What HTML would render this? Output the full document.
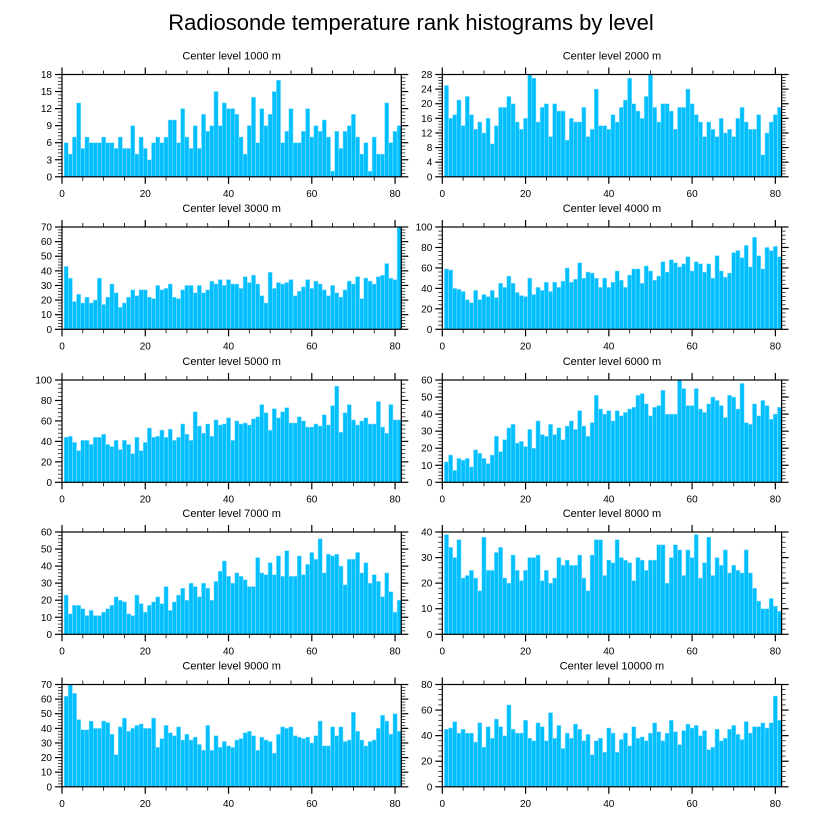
<!DOCTYPE html>
<html><head><meta charset="utf-8"><style>
html,body{margin:0;padding:0;background:#fff;}
svg{display:block;font-family:"Liberation Sans",Arial,sans-serif;}
</style></head><body>
<svg id="chart" width="822" height="824" viewBox="0 0 822 824">
<text x="411" y="30" text-anchor="middle" font-size="22">Radiosonde temperature rank histograms by level</text>
</svg>
<script>
const levels = ["1000","2000","3000","4000","5000","6000","7000","8000","9000","10000"];
const yMaxes = [18,28,70,100,100,60,60,40,70,80];
const yMajors = [3,4,10,20,20,10,10,10,10,20];
const xTicks = [0,20,40,60,80];
const s1000 = [6,4,7,13,5,7,6,6,6,7,6,6,5,7,5,5,9,4,7,5,3,6,7,6,7,10,10,6,12,7,5,9,5,11,8,9,15,9,13,12,12,11,7,4,9,14,6,12,9,11,15,17,6,8,12,6,6,8,12,7,9,8,10,7,1,8,5,8,9,11,7,4,6,1,7,4,4,13,6,8,9];
const s2000 = [25,16,17,21,14,22,17,13,15,12,16,9,14,19,19,22,20,15,13,16,28,27,15,19,20,11,20,18,18,10,16,15,15,19,11,13,24,14,14,13,17,15,19,21,27,20,18,16,22,28,19,15,20,20,18,13,19,19,24,20,17,15,11,15,13,11,16,12,13,11,16,19,15,13,13,17,6,12,15,17,19];
const s3000 = [43,35,19,24,18,22,18,20,35,17,22,31,25,15,18,22,27,23,27,27,22,21,30,27,28,31,22,21,27,30,30,25,30,25,27,33,31,34,30,34,31,31,28,36,32,37,31,23,18,39,28,32,31,32,34,23,26,29,34,28,33,31,27,23,30,25,22,27,33,31,36,21,35,33,31,36,37,45,35,34,70];
const s4000 = [59,58,40,39,37,29,26,38,29,34,32,38,31,45,41,52,45,36,33,32,50,34,41,38,46,37,46,41,47,60,46,49,65,50,56,55,50,41,50,41,46,57,48,41,53,59,59,45,62,57,48,52,66,56,68,65,61,64,71,57,66,64,56,64,50,72,57,51,55,75,77,70,82,61,90,72,59,80,77,81,71];
const s5000 = [44,45,39,31,41,41,37,44,44,47,37,35,41,32,41,37,28,44,31,39,53,44,45,51,44,52,41,44,57,47,41,69,55,48,57,45,61,56,57,63,41,60,57,58,56,62,64,76,68,51,72,63,69,73,58,58,64,60,54,54,57,55,66,56,75,94,49,68,76,61,56,60,63,57,57,79,54,48,76,61,61];
const s6000 = [12,16,7,14,13,14,9,19,17,14,11,16,27,18,25,32,34,23,24,21,31,20,36,28,27,34,28,32,25,33,36,31,42,33,27,35,51,43,40,42,36,42,39,41,43,44,51,52,46,39,44,45,54,40,40,40,60,55,45,45,55,43,41,46,50,48,45,38,51,50,43,58,35,34,46,39,48,45,37,40,44];
const s7000 = [23,12,17,17,15,11,14,11,11,13,15,17,22,20,19,12,11,23,18,13,17,19,22,18,28,14,19,23,27,20,30,28,22,30,27,20,31,37,43,34,30,36,34,32,28,28,45,36,35,42,35,46,34,49,34,34,46,35,41,48,44,56,36,47,46,47,40,29,44,44,48,36,42,30,35,31,22,36,25,13,20];
const s8000 = [39,34,30,37,22,23,25,22,17,38,25,25,32,34,22,20,31,25,21,25,30,30,31,21,25,20,22,30,27,29,27,27,31,22,17,31,37,37,23,29,28,37,30,29,28,21,30,29,25,29,29,35,35,20,30,35,33,23,33,30,39,22,28,38,23,30,27,33,24,27,25,24,33,24,18,13,10,10,14,11,9];
const s9000 = [62,70,64,46,39,39,45,40,40,45,44,36,22,41,47,38,40,42,43,40,40,47,27,33,42,37,35,41,32,36,32,34,29,25,42,25,35,27,31,28,27,32,33,37,38,35,25,34,32,31,23,36,41,40,41,35,34,33,34,30,35,45,28,28,41,35,41,31,32,51,38,32,28,31,32,40,49,45,36,50,38];
const s10000 = [45,46,51,42,45,42,42,35,50,31,47,38,53,47,40,64,45,42,42,52,38,36,50,47,36,58,38,48,30,42,38,49,45,36,41,25,36,38,27,46,42,27,37,42,32,47,38,39,36,42,50,43,36,42,52,43,33,44,49,46,48,40,44,29,31,45,36,38,45,48,41,37,51,42,47,47,50,46,50,71,52];
const seriesList = [s1000,s2000,s3000,s4000,s5000,s6000,s7000,s8000,s9000,s10000];

const NS = "http://www.w3.org/2000/svg";
const svg = document.getElementById("chart");
const XMAX = 81.5;
const colLeft = [62, 442.3];
const plotW = 339.3;
const rowTop = [74.5, 227, 380, 532, 684.5];
const plotH = 102.3;

function mk(tag, attrs, parent) {
  const e = document.createElementNS(NS, tag);
  for (const k in attrs) e.setAttribute(k, attrs[k]);
  (parent || svg).appendChild(e);
  return e;
}

seriesList.forEach((vals, p) => {
  const x0 = colLeft[p % 2], y0 = rowTop[Math.floor(p / 2)];
  const ymax = yMaxes[p], major = yMajors[p];
  const xs = v => x0 + v / XMAX * plotW;
  const ys = v => y0 + plotH - v / ymax * plotH;
  const g = mk("g", {});
  
  

  const t = mk("text", {x: x0 + plotW / 2, y: y0 - 15, "text-anchor": "middle", "font-size": "11"}, g);
  t.textContent = "Center level " + levels[p] + " m";
  
  

  vals.forEach((v, i) => {
    const b = mk("rect", {x: xs(i + 0.5), y: ys(v), width: xs(1) - xs(0), height: ys(0) - ys(v),
      fill: "#00bfff", stroke: "#8fe0ff", "stroke-width": "0.5"}, g);
    
    
  });

  const frame = mk("rect", {x: x0, y: y0, width: plotW, height: plotH, fill: "none", stroke: "#000", "stroke-width": "1.2"}, g);
  
  

  for (let v = 0; v <= 80; v += 5) {
    const isMaj = v % 20 === 0, L = isMaj ? 7 : 4, x = xs(v);
    mk("line", {x1: x, y1: y0 + plotH, x2: x, y2: y0 + plotH + L, stroke: "#000", "stroke-width": isMaj ? 1.2 : 0.8}, g);
    mk("line", {x1: x, y1: y0, x2: x, y2: y0 - L, stroke: "#000", "stroke-width": isMaj ? 1.2 : 0.8}, g);
  }
  xTicks.forEach(v => {
    const tl = mk("text", {x: xs(v), y: y0 + plotH + 20, "text-anchor": "middle", "font-size": "10"}, g);
    tl.textContent = v;
    
    
  });
  const minor = major / 5;
  for (let k = 0; k * minor <= ymax + 1e-9; k++) {
    const v = k * minor, isMaj = k % 5 === 0, L = isMaj ? 7 : 4, y = ys(v);
    mk("line", {x1: x0, y1: y, x2: x0 - L, y2: y, stroke: "#000", "stroke-width": isMaj ? 1.2 : 0.7}, g);
    mk("line", {x1: x0 + plotW, y1: y, x2: x0 + plotW + L, y2: y, stroke: "#000", "stroke-width": isMaj ? 1.2 : 0.7}, g);
    if (isMaj) {
      const yl = mk("text", {x: x0 - 10, y: y + 3.5, "text-anchor": "end", "font-size": "10"}, g);
      yl.textContent = v;
      
      
    }
  }
});
</script>
</body></html>
